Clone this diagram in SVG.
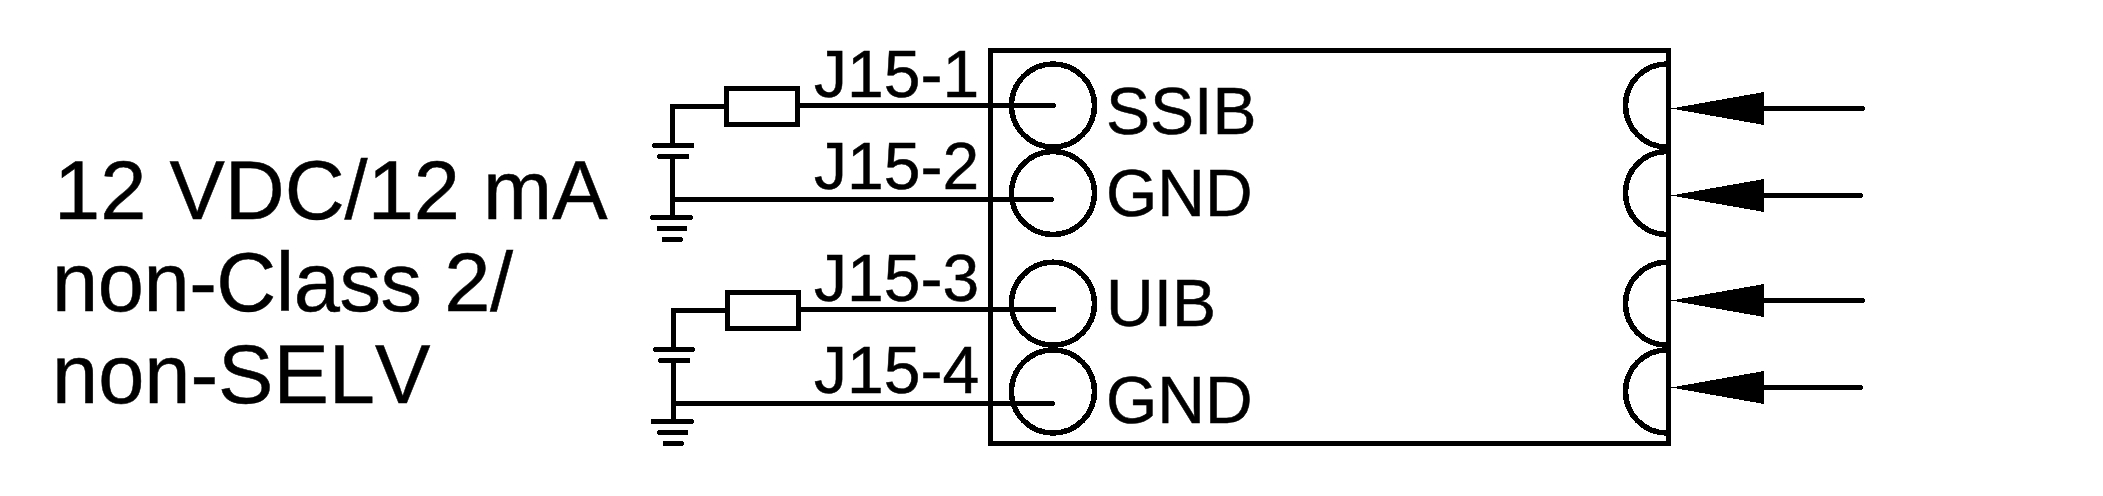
<svg xmlns="http://www.w3.org/2000/svg" width="2103" height="496" viewBox="0 0 2103 496">
<style>
text{font-family:"Liberation Sans",Arial,sans-serif;fill:#000;stroke:#000;stroke-width:.5;font-kerning:none}
.w{fill:none;stroke:#000;stroke-width:5.500;stroke-linecap:round;stroke-linejoin:miter;shape-rendering:crispEdges}
.b{fill:none;stroke:#000;stroke-width:5.500;stroke-linecap:square;shape-rendering:crispEdges}
.p{font-size:66px}
.m{font-size:66px}
.t{font-size:83px}
</style>
<defs>
<polygon id="head" points="0,0 93,-16.500 93,16.500" fill="#000" shape-rendering="crispEdges"/>
</defs>
<rect width="2103" height="496" fill="#fff"/>
<g id="power-label"><text class="t" x="54" y="219">12 VDC/12 mA</text><text class="t" x="52" y="311" textLength="461" lengthAdjust="spacing">non-Class 2/</text><text class="t" x="52" y="403">non-SELV</text></g>
<g id="module"><rect class="b" x="990.500" y="50.500" width="678" height="393"/></g>
<g id="port-ssib"><circle class="w" cx="1053" cy="105.500" r="41.500"/><text class="m" x="1106" y="133.500">SSIB</text></g>
<g id="port-gnd-1"><circle class="w" cx="1053" cy="193" r="41.500"/><text class="m" x="1106" y="216">GND</text></g>
<g id="port-uib"><circle class="w" cx="1053" cy="303.700" r="41.500"/><text class="m" x="1106" y="326">UIB</text></g>
<g id="port-gnd-2"><circle class="w" cx="1053" cy="391.500" r="41.500"/><text class="m" x="1106" y="422.500">GND</text></g>
<g id="sensor-1"><path class="w" d="M1667 64A41.500 41.500 0 0 0 1667 147"/></g>
<g id="sensor-2"><path class="w" d="M1667 151.500A41.500 41.500 0 0 0 1667 234.500"/></g>
<g id="sensor-3"><path class="w" d="M1667 262.200A41.500 41.500 0 0 0 1667 345.200"/></g>
<g id="sensor-4"><path class="w" d="M1667 350A41.500 41.500 0 0 0 1667 433"/></g>
<g id="resistor-1"><rect class="b" x="726.500" y="88.500" width="71" height="36"/></g>
<g id="resistor-2"><rect class="b" x="727.500" y="292.500" width="71" height="36"/></g>
<g id="supply-1"><path class="w" d="M654.700 145.500H691.700M660 156.500H686.700M652.700 217.500H690M659.300 228.500H684.700M664.300 239.500H680"/></g>
<g id="supply-2"><path class="w" d="M655.700 349.500H692.300M661 360.500H687.700M653.300 421.500H691M660 432.500H685.700M665.300 443.500H681"/></g>
<g id="connectors">
<path class="w" d="M726 106.500H672.500V145M672.500 156.500V217M672.500 199.500H1051M800 105.500H1053"/>
<path class="w" d="M727 310.500H673.500V349M673.500 360.500V421M673.500 403.500H1052M801 309.500H1053.700"/>
<path class="w" d="M1763 108.500H1862M1763 195.500H1860M1763 300.500H1862M1763 387.500H1860"/>
<use href="#head" x="1671" y="108.500"/><use href="#head" x="1671" y="195.500"/><use href="#head" x="1671" y="300.500"/><use href="#head" x="1671" y="387.500"/>
</g>
<g id="connector-labels"><text class="p" x="814" y="96.700">J15-1</text><text class="p" x="814" y="189">J15-2</text><text class="p" x="814" y="300.700">J15-3</text><text class="p" x="814" y="392.700">J15-4</text></g>
</svg>
